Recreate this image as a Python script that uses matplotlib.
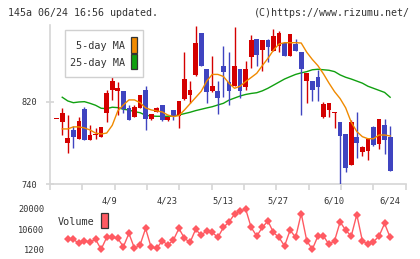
import numpy as np
import matplotlib
matplotlib.use("Agg")
import matplotlib.pyplot as plt
from matplotlib.patches import Rectangle

# daily candles (index 0 .. 60), prices in yen
opens = [803, 800, 780, 792, 784, 813, 783, 788, 786, 809, 831, 830, 830, 814, 805, 814,
         831, 803, 810, 817, 802, 812, 806, 823, 826, 846, 887, 852, 830, 830, 855, 839,
         835, 852, 834, 863, 881, 870, 880, 869, 874, 877, 864, 876, 868, 840, 840, 844,
         805, 812, 809, 800, 789, 758, 786, 771, 772, 795, 779, 797, 786]
closes = [803, 809, 785, 786, 801, 783, 788, 789, 795, 828, 840, 833, 813, 802, 815, 826,
          803, 808, 814, 802, 805, 806, 821, 842, 831, 877, 855, 829, 835, 824, 849, 830,
          855, 830, 852, 880, 865, 880, 873, 884, 887, 864, 886, 869, 852, 848, 831, 834,
          818, 819, 810, 787, 756, 800, 780, 776, 784, 778, 803, 783, 753]
highs = [803, 814, 807, 796, 805, 815, 797, 794, 795, 831, 844, 839, 830, 817, 817, 826,
         835, 808, 815, 817, 805, 812, 821, 868, 840, 894, 887, 852, 864, 840, 874, 868,
         893, 852, 860, 885, 881, 880, 881, 891, 889, 877, 886, 881, 868, 848, 840, 851,
         820, 819, 810, 800, 789, 802, 810, 777, 784, 796, 803, 803, 796]
lows = [803, 788, 770, 775, 784, 783, 783, 784, 786, 800, 822, 807, 809, 802, 805, 814,
        792, 802, 810, 801, 801, 802, 794, 822, 819, 845, 855, 819, 829, 808, 825, 817,
        835, 824, 831, 853, 855, 850, 859, 869, 868, 864, 864, 869, 807, 819, 821, 821,
        804, 805, 794, 740, 752, 758, 765, 767, 763, 777, 774, 769, 753]

ma5 = [np.nan, 793.5, 793.5, 795.5, 795.5, 794.5, 792.5, 789.5, 788.6, 789.5, 797, 811,
       816.8, 821.7, 821.7, 819, 814, 812, 811, 810, 807, 805.5, 806.5, 812, 818, 824,
       830, 840, 846.5, 846.5, 844.5, 838, 833, 835, 839.5, 843.5, 847.6, 855, 862, 870,
       876, 877.3, 877.3, 877.3, 877, 868, 861, 855, 847, 838, 829.7, 823, 814, 800, 791,
       786, 784, 784, 787.6, 787.6, 786.7]
ma25 = [np.nan, 824.3, 820.7, 819.0, 819.7, 820.0, 818.4, 816.5, 813.6, 813.2, 814.6,
        814.2, 812.6, 811.9, 810.3, 809.3, 806.8, 806.1, 805.8, 805.8, 805.8, 806.1, 807.1,
        808.4, 809.7, 811.3, 812.6, 813.9, 815.1, 816.8, 818.4, 821.5, 823.5, 825.5, 827,
        828, 828.7, 830.5, 833, 836, 839, 842, 844.3, 846.5, 848, 849.2, 851, 851.5, 851,
        850.5, 849.2, 846, 843.7, 842, 840, 838, 835, 833, 831, 829, 824.3]

volume = [np.nan, np.nan, 5830, 5830, 3980, 5180, 4580, 5830, 1200, 6760, 6760, 6290,
          2400, 8610, 1660, 3190, 10920, 2130, 1660, 5180, 3190, 5510, 10920, 6290, 4440,
          10460, 7820, 9810, 9070, 6760, 11390, 13980, 17540, 18930, 20000, 11390, 7360,
          11390, 14440, 9070, 6760, 2730, 10140, 6760, 17870, 5180, 1200, 7360, 7360, 3520,
          5180, 13980, 10140, 7360, 17400, 5180, 3520, 4720, 7360, 13240, 6760]

date_idx = [10, 20, 30, 40, 50, 60]
date_labels = ["4/9", "4/23", "5/13", "5/27", "6/10", "6/24"]
price_ticks = [740, 820]
volume_ticks = [1200, 10600, 20000]

W, H = 420, 259
RED = "#d40000"
BLUE = "#3f44c0"
GRID = "#d6d6d6"
TXT = "#333333"
MONO = "DejaVu Sans Mono"


def fx(px):
    return px / W


def fy(py):
    return 1 - py / H


fig = plt.figure(figsize=(W / 100, H / 100), dpi=100)

# price panel
ax = fig.add_axes([fx(50), fy(184), (405.7 - 50) / W, (184 - 25) / H])
x = np.arange(len(opens))
for i in x:
    o, c = opens[i], closes[i]
    col = RED if c >= o else BLUE
    ax.vlines(i, lows[i], highs[i], color=col, lw=1.0, zorder=3)
    ax.bar(i, max(abs(c - o), 1.0), bottom=min(o, c), width=0.85, color=col, zorder=4)

ax.plot(x, ma5, color="#f08a00", lw=1.0, zorder=5)
ax.plot(x, ma25, color="#10a010", lw=1.0, zorder=2)

ax.set_xlim(-1.2, 62.8)
ax.set_ylim(740, 894.5)
for s in ["top", "right"]:
    ax.spines[s].set_visible(False)
for s in ["left", "bottom"]:
    ax.spines[s].set_color(GRID)
    ax.spines[s].set_linewidth(1.2)

ax.set_yticks(price_ticks, [str(v) for v in price_ticks])
ax.tick_params(axis="y", direction="inout", length=6, width=1.2, color=GRID,
               labelsize=6.2, labelcolor=TXT, pad=6)
ax.set_xticks(np.linspace(-1.2, 62.8, 12), [""] * 12)
ax.tick_params(axis="x", which="major", direction="out", length=4, width=1.2, color=GRID)
ax.set_xticks([d - 2 for d in date_idx], date_labels, minor=True)
ax.tick_params(axis="x", which="minor", length=0, pad=9, labelsize=6.3, labelcolor=TXT)
for lab in ax.get_xticklabels(minor=True):
    lab.set_horizontalalignment("left")
for lab in ax.get_xticklabels(minor=True) + ax.get_yticklabels():
    lab.set_family(MONO)

# volume panel
axv = fig.add_axes([fx(50), fy(249.3), (405.7 - 50) / W, (249.3 - 209) / H])
axv.plot(x, volume, color="#ff5a62", lw=1.0, marker="D", markersize=3.6,
         markeredgewidth=0, clip_on=False)
axv.set_xlim(-1.2, 62.8)
axv.set_ylim(1200, 20000)
for s in axv.spines.values():
    s.set_visible(False)
axv.set_xticks([])
axv.set_yticks(volume_ticks, [str(v) for v in volume_ticks])
axv.tick_params(axis="y", length=0, pad=4, labelsize=6.2, labelcolor=TXT)
for lab in axv.get_yticklabels():
    lab.set_family(MONO)

# header
fig.text(fx(8), fy(12.5), "145a 06/24 16:56 updated.", family=MONO, fontsize=7.2,
         color=TXT, ha="left", va="center")
fig.text(fx(410), fy(12.5), "(C)https://www.rizumu.net/", family=MONO, fontsize=7.2,
         color=TXT, ha="right", va="center")

# moving-average legend
fig.patches.append(Rectangle((fx(65), fy(77.3)), (143.3 - 65) / W, (77.3 - 30) / H,
                             transform=fig.transFigure, facecolor="white",
                             edgecolor="#d0d0d0", lw=1.0, zorder=10))
fig.patches.append(Rectangle((fx(131), fy(52.7)), 6.3 / W, 15.4 / H,
                             transform=fig.transFigure, facecolor="#f08a00",
                             edgecolor="#333333", lw=0.9, zorder=11))
fig.patches.append(Rectangle((fx(131), fy(69.3)), 6.3 / W, 15 / H,
                             transform=fig.transFigure, facecolor="#10a010",
                             edgecolor="#333333", lw=0.9, zorder=11))
fig.text(fx(125), fy(46), "5-day MA", family=MONO, fontsize=7.3, color=TXT,
         ha="right", va="center", zorder=12)
fig.text(fx(125), fy(63.3), "25-day MA", family=MONO, fontsize=7.3, color=TXT,
         ha="right", va="center", zorder=12)

# volume legend
fig.text(fx(58), fy(222), "Volume", family=MONO, fontsize=7.3, color=TXT,
         ha="left", va="center")
fig.patches.append(Rectangle((fx(101), fy(228.3)), 6.7 / W, 15.6 / H,
                             transform=fig.transFigure, facecolor="#ff5a62",
                             edgecolor="#333333", lw=0.9))

fig.savefig("out.png", dpi=100)
